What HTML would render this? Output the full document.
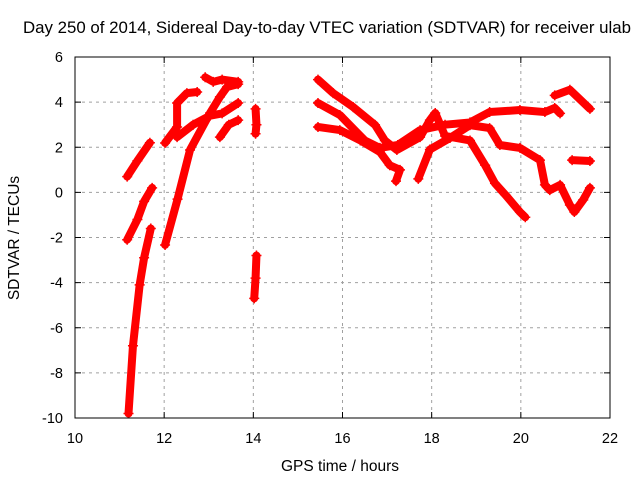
<!DOCTYPE html>
<html><head><meta charset="utf-8"><style>
body{margin:0;background:#fff}
svg{display:block;font-family:"Liberation Sans",sans-serif}
</style></head><body>
<svg id="chart" width="640" height="480">
<rect width="640" height="480" fill="#fff"/>
<text x="327" y="33" font-size="16.5" text-anchor="middle" textLength="608" lengthAdjust="spacingAndGlyphs">Day 250 of 2014, Sidereal Day-to-day VTEC variation (SDTVAR) for receiver ulab</text>
<text x="340" y="471" font-size="15.5" text-anchor="middle">GPS time / hours</text>
<text transform="translate(19,238) rotate(-90)" font-size="15.5" text-anchor="middle">SDTVAR / TECUs</text>
<g id="grid"></g>
<g id="ticks"></g>
<g id="marks"></g>
<rect x="75" y="57" width="535" height="361" fill="none" stroke="#000" stroke-width="1"/>
</svg>
<script>
const xTicks=[10,12,14,16,18,20,22];
const yTicks=[-10,-8,-6,-4,-2,0,2,4,6];
const trackA=[[11.2,-9.8],[11.3,-6.8],[11.45,-4.1],[11.55,-2.9],[11.7,-1.6]];
const trackB=[[11.17,-2.1],[11.4,-1.2],[11.55,-0.4],[11.73,0.2]];
const trackC=[[11.17,0.7],[11.4,1.4],[11.68,2.2]];
const trackD=[[12.02,-2.33],[12.3,-0.3],[12.58,1.88],[13.03,3.52],[13.25,4.23],[13.41,4.67],[13.66,4.8]];
const trackE=[[12.92,5.1],[13.1,4.9],[13.3,5.0],[13.66,4.9]];
const trackF=[[12.02,2.19],[12.29,2.9],[12.29,3.96],[12.51,4.4],[12.74,4.45]];
const trackG=[[12.29,2.45],[12.65,3.0],[13.03,3.4],[13.3,3.5],[13.66,3.96]];
const trackH=[[13.25,2.45],[13.45,3.0],[13.66,3.2]];
const trackI=[[14.05,3.7],[14.07,3.0],[14.05,2.6]];
const trackJ=[[14.07,-2.8],[14.05,-3.8],[14.02,-4.7]];
const trackK=[[15.45,5.0],[15.79,4.4],[16.24,3.78],[16.73,2.99],[16.95,2.3],[17.22,1.88],[17.74,2.45],[17.96,3.2],[18.08,3.52],[18.3,2.5],[18.86,2.3],[19.2,1.2],[19.42,0.4],[19.65,-0.1],[19.98,-0.87],[20.1,-1.1]];
const trackL=[[15.45,3.96],[15.94,3.43],[16.5,2.3],[16.84,1.97],[17.24,2.1],[17.74,2.76],[18.3,3.0],[18.86,3.1],[19.3,3.56],[19.98,3.65],[20.54,3.56],[20.76,3.74],[20.88,3.5]];
const trackM=[[15.45,2.9],[15.94,2.76],[16.4,2.3],[16.84,1.79],[17.06,1.2],[17.29,1.0],[17.2,0.5]];
const trackN=[[17.7,0.6],[17.96,1.9],[18.41,2.41],[18.86,2.98],[19.3,2.85],[19.53,2.1],[19.98,1.97],[20.43,1.43],[20.54,0.33],[20.65,0.1],[20.88,0.33],[21.1,-0.56],[21.2,-0.87],[21.4,-0.33],[21.55,0.2]];
const trackO=[[20.76,4.3],[21.1,4.55],[21.55,3.7]];
const trackP=[[21.15,1.43],[21.55,1.39]];
const tracks=[trackA,trackB,trackC,trackD,trackE,trackF,trackG,trackH,trackI,trackJ,trackK,trackL,trackM,trackN,trackO,trackP];
const X0=75,X1=610,Y0=418,Y1=57;
function sx(v){return X0+(v-10)/12*(X1-X0);}
function sy(v){return Y0-(v+10)/16*(Y0-Y1);}
const NS="http://www.w3.org/2000/svg";
function mk(t,a,p){const e=document.createElementNS(NS,t);for(const k in a)e.setAttribute(k,a[k]);p.appendChild(e);return e;}
const grid=document.getElementById('grid'),ticks=document.getElementById('ticks'),marks=document.getElementById('marks');
xTicks.forEach(v=>{const x=sx(v);
 if(v>10&&v<22){const g=mk('line',{x1:x,x2:x,y1:Y1,y2:Y0,stroke:'#a0a0a0','stroke-dasharray':'3,4'},grid);
 }
 mk('line',{x1:x,x2:x,y1:Y0,y2:Y0-6,stroke:'#000'},ticks);mk('line',{x1:x,x2:x,y1:Y1,y2:Y1+6,stroke:'#000'},ticks);
 const t=mk('text',{x:x,y:443,'font-size':14.5,'text-anchor':'middle'},ticks);t.textContent=v;
 });
yTicks.forEach(v=>{const y=sy(v);
 if(v>-10&&v<6){const g=mk('line',{x1:X0,x2:X1,y1:y,y2:y,stroke:'#a0a0a0','stroke-dasharray':'3,4'},grid);
 }
 mk('line',{x1:X0,x2:X0+6,y1:y,y2:y,stroke:'#000'},ticks);mk('line',{x1:X1,x2:X1-6,y1:y,y2:y,stroke:'#000'},ticks);
 const t=mk('text',{x:63,y:y+5,'font-size':14.5,'text-anchor':'end'},ticks);t.textContent=v;
 });
tracks.forEach((tr,i)=>{
 const pl=mk('polyline',{points:tr.map(p=>sx(p[0])+','+sy(p[1])).join(' '),fill:'none',stroke:'#ff0000','stroke-width':8,'stroke-linejoin':'round','stroke-linecap':'round'},marks);
 
 
 tr.forEach(p=>{const x=sx(p[0]),y=sy(p[1]);
  const m=mk('path',{d:`M${x-5},${y}h10M${x},${y-5}v10`,stroke:'#ff0000','stroke-width':1.5},marks);
  
  });
});
</script>
</body></html>
